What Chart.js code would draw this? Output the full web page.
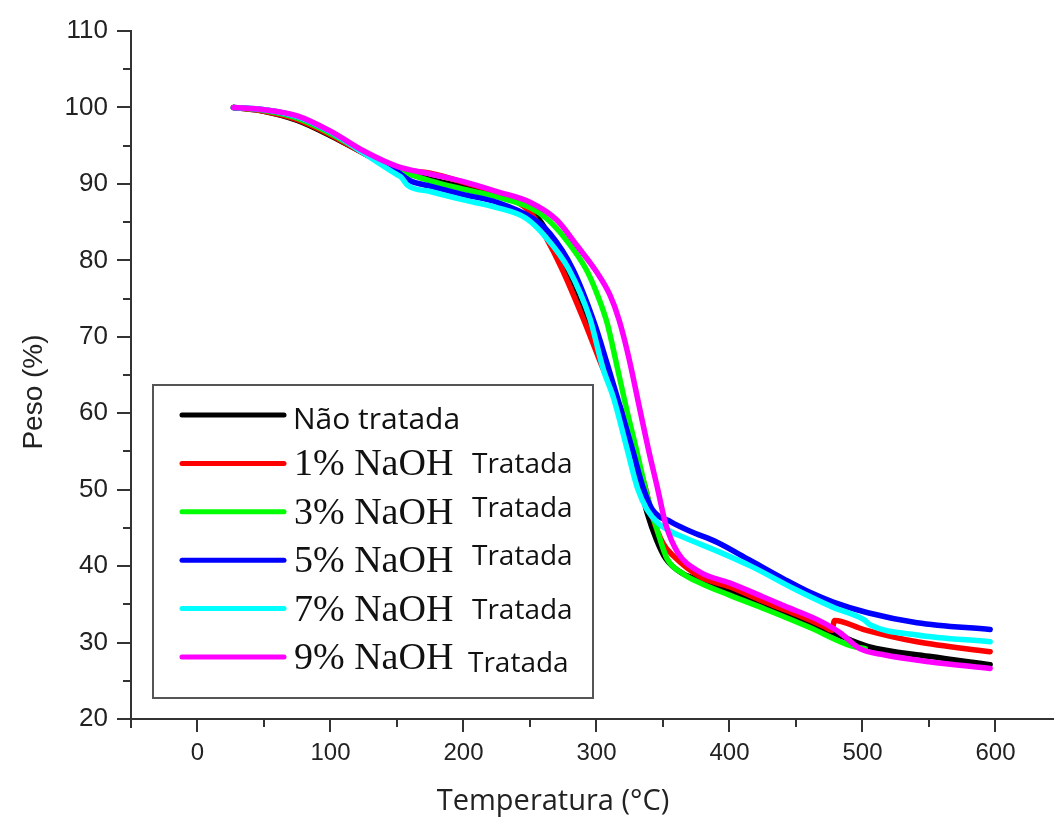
<!DOCTYPE html>
<html>
<head>
<meta charset="utf-8">
<script src="https://cdn.jsdelivr.net/npm/chart.js@4.4.1/dist/chart.umd.min.js"></script>
<style>
  html, body { margin: 0; padding: 0; background: #fff; }
  #wrap { width: 1054px; height: 819px; position: relative; }
</style>
</head>
<body>
<div id="wrap"><canvas id="tgaChart"></canvas></div>
<script>
// curvas TGA: temperatura (°C) e peso (%)
var tempNaoTratada = [27, 50, 75, 100, 125, 150, 175, 200, 225, 250, 262, 274, 290, 305, 319, 328, 333, 338, 345, 352, 365, 378, 400, 428, 450, 478, 504, 550, 596];
var pesoNaoTratada = [100, 99.5, 98.3, 96.3, 94.0, 91.8, 90.6, 89.6, 88.5, 86.6, 84.0, 79.5, 73.0, 66.0, 60.2, 55.3, 50.5, 47.0, 43.5, 41.0, 39.0, 38.2, 36.8, 34.8, 33.3, 31.3, 29.5, 28.2, 27.1];

var temp1 = [27, 50, 75, 100, 125, 150, 175, 200, 225, 250, 262, 274, 290, 305, 319, 328, 337, 342, 350, 358, 378, 400, 428, 450, 471, 477, 479, 501, 541, 596];
var peso1 = [100, 99.5, 98.4, 96.4, 94.0, 92.0, 91.4, 90.2, 88.8, 86.3, 83.0, 78.9, 72.4, 65.8, 60.2, 55.3, 50.1, 46.5, 43.0, 41.3, 38.6, 37.3, 35.2, 33.7, 32.1, 31.6, 32.9, 31.7, 30.1, 28.8];

var temp3 = [27, 50, 75, 100, 125, 150, 175, 200, 225, 250, 263, 278, 292, 300, 308, 315, 322, 331, 337, 341, 346, 353, 365, 378, 400, 428, 460, 491, 502];
var peso3 = [100, 99.6, 98.6, 96.6, 94.1, 91.9, 90.4, 89.3, 88.3, 86.9, 85.4, 82.5, 78.9, 75.8, 71.8, 66.5, 61.0, 54.5, 50.0, 47.4, 44.5, 41.0, 39.0, 37.8, 36.2, 34.3, 32.0, 29.6, 29.2];

var temp5 = [27, 50, 75, 100, 125, 150, 160, 175, 200, 225, 252, 265, 282, 298, 308, 317, 327, 335, 342, 356, 370, 391, 415, 441, 460, 478, 504, 541, 596];
var peso5 = [100, 99.7, 98.8, 96.8, 94.1, 91.6, 90.4, 89.7, 88.6, 87.6, 85.5, 83.5, 78.9, 72.0, 66.5, 61.3, 55.3, 50.3, 47.4, 45.8, 44.6, 43.1, 40.8, 38.3, 36.6, 35.3, 33.9, 32.6, 31.7];

var temp7 = [27, 50, 75, 100, 125, 150, 153, 158, 175, 200, 225, 247, 262, 279, 295, 305, 313, 323, 331, 338, 347, 356, 365, 393, 416, 450, 478, 501, 506, 541, 596];
var peso7 = [100, 99.7, 98.8, 96.8, 94.0, 91.2, 90.9, 89.8, 89.0, 87.9, 86.9, 85.5, 83.0, 78.9, 72.4, 65.8, 61.9, 55.3, 50.1, 47.4, 45.5, 44.5, 43.8, 41.8, 40.0, 36.9, 34.6, 33.0, 32.3, 31.0, 30.1];

var temp9 = [27, 50, 75, 100, 125, 150, 175, 200, 225, 250, 270, 285, 300, 310, 317, 324, 332, 339, 346, 352, 361, 378, 400, 425, 441, 466, 483, 498, 516, 550, 596];
var peso9 = [100, 99.7, 98.9, 96.9, 94.3, 92.3, 91.3, 90.3, 89.0, 87.6, 85.3, 82.0, 78.5, 75.5, 72.2, 67.5, 61.0, 55.3, 50.1, 45.5, 41.8, 39.2, 37.8, 36.0, 34.8, 33.0, 31.3, 29.2, 28.4, 27.5, 26.6];

var nomes = ['Não tratada', '1% NaOH', '3% NaOH', '5% NaOH', '7% NaOH', '9% NaOH'];
var cores = ['#000000', '#ff0000', '#00ff00', '#0000ff', '#00ffff', '#ff00ff'];

var xMajor = [0, 100, 200, 300, 400, 500, 600];
var xMinor = [50, 150, 250, 350, 450, 550];
var yMajor = [20, 30, 40, 50, 60, 70, 80, 90, 100, 110];
var yMinor = [25, 35, 45, 55, 65, 75, 85, 95, 105];

var tituloX = 'Temperatura (°C)';
var tituloY = 'Peso (%)';

function pontos(t, p) {
    return t.map(function (v, i) { return { x: v, y: p[i] }; });
}

var series = [
    pontos(tempNaoTratada, pesoNaoTratada),
    pontos(temp1, peso1),
    pontos(temp3, peso3),
    pontos(temp5, peso5),
    pontos(temp7, peso7),
    pontos(temp9, peso9)
];

var datasets = series.map(function (d, i) {
    return {
        label: i === 0 ? nomes[i] : nomes[i] + ' Tratada',
        data: d,
        borderColor: cores[i],
        backgroundColor: cores[i],
        borderWidth: 5.5,
        pointRadius: 0,
        cubicInterpolationMode: 'monotone',
        borderCapStyle: 'round',
        borderJoinStyle: 'round',
        order: 5 - i
    };
});

// marcas de escala maiores e menores + titulos dos eixos
var eixos = {
    id: 'eixos',
    afterDraw: function (chart) {
        var ctx = chart.ctx, xs = chart.scales.x, ys = chart.scales.y, area = chart.chartArea;
        ctx.save();
        ctx.strokeStyle = '#333';
        ctx.lineWidth = 2;
        ctx.beginPath();
        xMajor.concat(xMinor).forEach(function (v) {
            var px = Math.round(xs.getPixelForValue(v));
            var len = xMajor.indexOf(v) >= 0 ? 13 : 8;
            ctx.moveTo(px, area.bottom);
            ctx.lineTo(px, area.bottom + len);
        });
        yMajor.concat(yMinor).forEach(function (v) {
            var py = Math.round(ys.getPixelForValue(v));
            var len = yMajor.indexOf(v) >= 0 ? 14 : 8;
            ctx.moveTo(area.left, py);
            ctx.lineTo(area.left - len, py);
        });
        ctx.moveTo(area.left, area.bottom);
        ctx.lineTo(area.left, area.bottom + 9);
        ctx.stroke();

        ctx.fillStyle = '#222';
        ctx.textAlign = 'center';
        ctx.textBaseline = 'middle';
        ctx.font = '29px "Open Sans"';
        ctx.fillText(tituloX, 553, 802);
        ctx.translate(34, 392);
        ctx.rotate(-Math.PI / 2);
        ctx.font = '28px "Liberation Sans"';
        ctx.fillText(tituloY, 0, 0);
        ctx.restore();
    }
};

// legenda em caixa (fontes misturadas como no original)
var caixaLegenda = {
    id: 'caixaLegenda',
    afterDraw: function (chart) {
        var ctx = chart.ctx;
        var bx = 153, by = 385, bw = 440, bh = 313;
        var tratadaDy = [0, 10, 5, 5, 10, 15];
        ctx.save();
        ctx.fillStyle = '#fff';
        ctx.fillRect(bx, by, bw, bh);
        ctx.strokeStyle = '#555';
        ctx.lineWidth = 2;
        ctx.strokeRect(bx, by, bw, bh);
        chart.data.datasets.forEach(function (ds, i) {
            var ly = 415 + i * 48.4;
            ctx.strokeStyle = ds.borderColor;
            ctx.lineWidth = 5;
            ctx.lineCap = 'round';
            ctx.beginPath();
            ctx.moveTo(182, ly);
            ctx.lineTo(284, ly);
            ctx.stroke();
            ctx.fillStyle = '#111';
            ctx.textBaseline = 'alphabetic';
            ctx.textAlign = 'left';
            if (i === 0) {
                ctx.font = '30px "Open Sans"';
                ctx.fillText(nomes[i], 293, ly + 14);
            } else {
                ctx.font = '38px "Liberation Serif"';
                ctx.fillText(nomes[i], 294, ly + 12);
                ctx.font = '28px "Open Sans"';
                ctx.fillText('Tratada', i === 5 ? 468 : 472, ly + tratadaDy[i]);
            }
        });
        ctx.restore();
    }
};

var ctx = document.getElementById('tgaChart').getContext('2d');
var tgaChart = new Chart(ctx, {
    type: 'line',
    data: { datasets: datasets },
    options: {
        responsive: true,
        maintainAspectRatio: false,
        animation: false,
        layout: { padding: { top: 31, right: 0, bottom: 0, left: 0 } },
        plugins: {
            legend: { display: false },
            tooltip: { enabled: false }
        },
        scales: {
            x: {
                type: 'linear',
                min: -50,
                max: 644,
                afterBuildTicks: function (scale) {
                    scale.ticks = xMajor.map(function (v) { return { value: v }; });
                },
                afterFit: function (scale) {
                    scale.height = 100;
                    scale.paddingLeft = 0;
                    scale.paddingRight = 0;
                },
                grid: { drawOnChartArea: false, drawTicks: false },
                border: { color: '#333', width: 2 },
                ticks: {
                    padding: 20,
                    color: '#222',
                    font: { family: '"Liberation Sans", Arial', size: 24 }
                }
            },
            y: {
                min: 20,
                max: 110,
                afterBuildTicks: function (scale) {
                    scale.ticks = yMajor.map(function (v) { return { value: v }; });
                },
                afterFit: function (scale) {
                    scale.width = 131;
                    scale.paddingTop = 0;
                    scale.paddingBottom = 0;
                },
                grid: { drawOnChartArea: false, drawTicks: false },
                border: { color: '#333', width: 2 },
                ticks: {
                    padding: 23,
                    color: '#222',
                    font: { family: '"Liberation Sans", Arial', size: 26 }
                }
            }
        }
    },
    plugins: [eixos, caixaLegenda]
});
</script>
</body>
</html>
